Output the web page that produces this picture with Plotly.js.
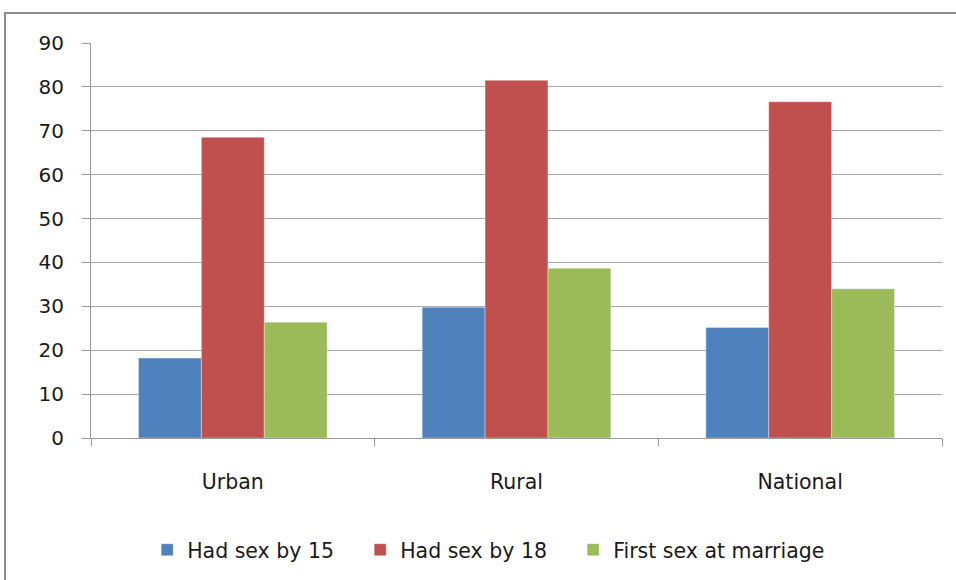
<!DOCTYPE html>
<html>
<head>
<meta charset="utf-8">
<script src="https://cdn.plot.ly/plotly-3.0.1.min.js"></script>
<style>
  html, body { margin: 0; padding: 0; background: #fff; }
  #wrap { position: relative; width: 956px; height: 580px; overflow: hidden; }
  #chart { position: absolute; left: 0; top: 0; width: 956px; height: 580px; }
  #frame { position: absolute; left: 4px; top: 12px; width: 1000px; height: 1000px;
           border: 2px solid #8c8c8c; pointer-events: none; box-sizing: border-box; }
</style>
</head>
<body>
<div id="wrap">
  <div id="chart"></div>
  <div id="frame"></div>
</div>
<script>
const categories = ["Urban", "Rural", "National"];
const hadSexBy15 = [18.2, 29.8, 25.2];
const hadSexBy18 = [68.5, 81.5, 76.6];
const firstSexAtMarriage = [26.4, 38.7, 34.0];
const seriesNames = ["Had sex by 15", "Had sex by 18", "First sex at marriage"];
const yTicks = [0, 10, 20, 30, 40, 50, 60, 70, 80, 90];

const colors = ["#4F81BD", "#C0504D", "#9BBB59"];
const allSeries = [hadSexBy15, hadSexBy18, firstSexAtMarriage];
const legendWidths = [168, 168, 260];

const traces = allSeries.map((vals, i) => ({
  type: "bar",
  name: seriesNames[i],
  x: categories,
  y: vals,
  legendwidth: legendWidths[i],
  marker: { color: colors[i], line: { color: "rgba(255,255,255,0.35)", width: 1 } },
  hoverinfo: "none"
}));

const fontFam = "DejaVu Sans, Noto Sans, sans-serif";
const txtColor = "#1a1a1a";

const layout = {
  width: 956,
  height: 580,
  margin: { l: 91, r: 14, t: 43, b: 141, pad: 0 },
  paper_bgcolor: "#ffffff",
  plot_bgcolor: "#ffffff",
  barmode: "group",
  bargap: 0.335,
  bargroupgap: 0,
  showlegend: true,
  font: { family: fontFam, size: 20, color: txtColor },
  xaxis: {
    type: "category",
    showgrid: false,
    showline: true,
    linecolor: "#9a9a9a",
    linewidth: 1,
    ticks: "outside",
    tickson: "boundaries",
    ticklen: 7,
    tickcolor: "#9a9a9a",
    ticklabelstandoff: 25,
    tickfont: { family: fontFam, size: 20.5, color: txtColor },
    zeroline: false
  },
  yaxis: {
    range: [0, 90],
    tickvals: yTicks,
    ticktext: yTicks.map(String),
    showgrid: true,
    gridcolor: "#a6a6a6",
    gridwidth: 1,
    showline: true,
    linecolor: "#9a9a9a",
    linewidth: 1,
    ticks: "outside",
    ticklen: 8,
    tickcolor: "#9a9a9a",
    ticklabelstandoff: 14,
    tickfont: { family: fontFam, size: 20, color: txtColor },
    zeroline: false
  },
  legend: {
    orientation: "h",
    x: 0.066,
    xanchor: "left",
    y: -0.28,
    yanchor: "middle",
    font: { family: fontFam, size: 20.5, color: txtColor },
    itemwidth: 30,
    entrywidth: 168,
    entrywidthmode: "pixels",
    bgcolor: "rgba(0,0,0,0)"
  }
};

Plotly.newPlot("chart", traces, layout, { displayModeBar: false, staticPlot: true });
</script>
</body>
</html>
